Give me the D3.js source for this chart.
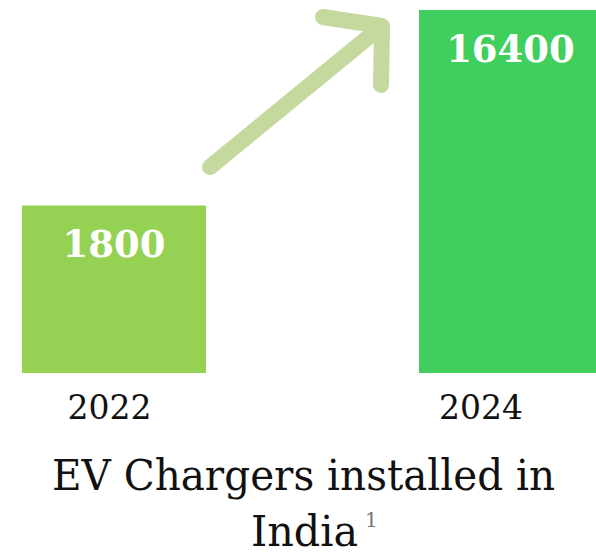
<!DOCTYPE html>
<html>
<head>
<meta charset="utf-8">
<script src="https://cdn.jsdelivr.net/npm/d3@7"></script>
<style>
  body { margin: 0; background: #fff; }
  svg { display: block; }
  text { font-family: "DejaVu Serif", serif; }
</style>
</head>
<body>
<div id="chart"></div>
<script>
let years = ["2022", "2024"];
let chargers = [1800, 16400];
let barColors = ["#95d152", "#40ce5c"];
let titleLines = ["EV Chargers installed in", "India"];
let footnote = "1";

let width = 596, height = 556;

let svg = d3.select("#chart").append("svg")
    .attr("width", width)
    .attr("height", height);

// infographic style: bars are not linear, a low exponent keeps the small one visible
let x = d3.scaleBand()
    .domain(years)
    .range([22, 603])
    .paddingInner(0.5365)
    .paddingOuter(0);

let y = d3.scalePow()
    .exponent(0.35)
    .domain([0, 16400])
    .range([373, 10]);

let data = years.map(function(d, i) { return {year: d, value: chargers[i], color: barColors[i]}; });

// arrow between the bars
let a0 = [210, 167], a1 = [382, 26];
svg.append("path")
    .attr("d", "M" + a0 + "L" + a1 + "M323,17L" + a1 + "L381,85")
    .attr("fill", "none")
    .attr("stroke", "#c5d89d")
    .attr("stroke-width", 16)
    .attr("stroke-linecap", "round")
    .attr("stroke-linejoin", "round");

svg.selectAll("rect.bar")
    .data(data)
    .enter().append("rect")
    .attr("class", "bar")
    .attr("x", d => x(d.year))
    .attr("y", d => y(d.value))
    .attr("width", x.bandwidth())
    .attr("height", d => y(0) - y(d.value))
    .attr("fill", d => d.color);

// value labels, the second bar runs off the page so centre on its visible part
svg.selectAll("text.val")
    .data(data)
    .enter().append("text")
    .attr("class", "val")
    .attr("x", (d, i) => i ? (x(d.year) + width) / 2 + 3 : x(d.year) + x.bandwidth() / 2)
    .attr("y", d => y(d.value) + 52)
    .attr("text-anchor", "middle")
    .attr("fill", "#fff")
    .attr("font-weight", "bold")
    .attr("font-size", 37)
    .text(d => d.value);

// year labels sit a bit left of the bar centres
let labelShift = [-4.5, -30];
svg.selectAll("text.year")
    .data(data)
    .enter().append("text")
    .attr("class", "year")
    .attr("x", (d, i) => x(d.year) + x.bandwidth() / 2 + labelShift[i])
    .attr("y", 419)
    .attr("text-anchor", "middle")
    .attr("fill", "#111")
    .attr("font-size", 33)
    .text(d => d.year);

svg.append("text")
    .attr("x", 303.5)
    .attr("y", 490)
    .attr("text-anchor", "middle")
    .attr("fill", "#111")
    .attr("font-size", 43)
    .attr("textLength", 503)
    .attr("lengthAdjust", "spacingAndGlyphs")
    .text(titleLines[0]);

let t2 = svg.append("text")
    .attr("x", 251)
    .attr("y", 546)
    .attr("fill", "#111")
    .attr("font-size", 43);
t2.append("tspan")
    .attr("textLength", 107)
    .attr("lengthAdjust", "spacingAndGlyphs")
    .text(titleLines[1]);
t2.append("tspan")
    .attr("dx", 7)
    .attr("dy", -19)
    .attr("font-size", 20)
    .attr("fill", "#777")
    .text(footnote);
</script>
</body>
</html>
